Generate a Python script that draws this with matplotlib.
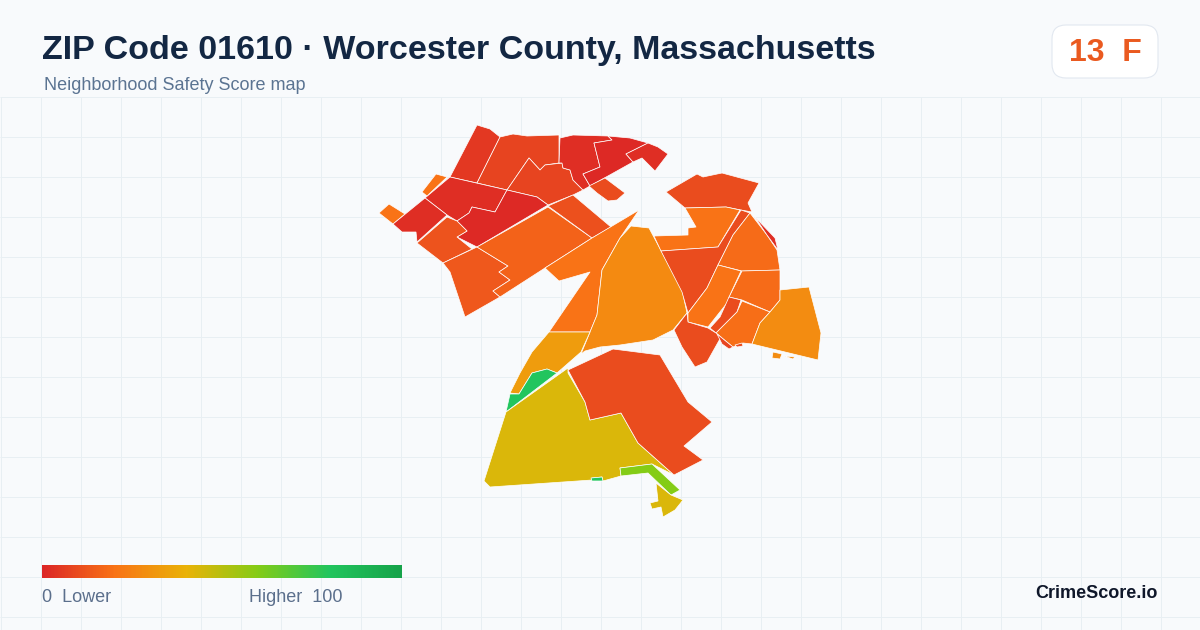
import numpy as np
import matplotlib
matplotlib.use('Agg')
import matplotlib.pyplot as plt
from matplotlib.colors import LinearSegmentedColormap
from matplotlib.patches import FancyBboxPatch, Polygon

plt.rcParams['font.family'] = ['Liberation Sans', 'DejaVu Sans']

# map outline in pixel units
nw_a = [(477,125),(490,129),(500,137),(477,183),(450,177)]
nw_b = [(500,137),(513,134),(527,136),(559,135),(559,163),(545,165),(540,170),(529,158),(507,190),(477,183)]
nw_c = [(529,158),(540,170),(545,165),(562,163),(563,168),(570,170),(573,180),(583,190),(573,195),(548,205),(537,197),(507,190)]
nw_d = [(560,138),(573,135),(608,136),(612,140),(594,143),(600,167),(583,174),(590,186),(583,190),(573,180),(570,170),(563,168),(562,163),(559,163)]
nw_e = [(612,140),(594,143),(600,167),(583,174),(590,186),(633,162),(626,154),(648,143),(630,138),(608,136)]
nw_f = [(648,143),(658,147),(668,154),(655,171),(642,158),(633,162),(626,154)]
nw_g = [(605,178),(625,193),(617,200),(608,201),(597,193),(589,186)]
nw_h = [(436,174),(447,177),(427,196),(422,192)]
nw_i = [(389,204),(405,214),(393,224),(379,213)]
nw_j = [(450,177),(507,190),(495,212),(472,207),(469,213),(457,221),(447,215),(425,198)]
nw_k = [(425,198),(447,215),(417,242),(416,232),(402,232),(393,224)]
nw_l = [(507,190),(537,197),(548,205),(477,247),(457,237),(467,231),(457,221),(469,213),(472,207),(495,212)]
nw_m = [(447,217),(457,221),(467,231),(457,237),(472,249),(443,263),(417,243)]
nw_n = [(443,263),(477,247),(508,266),(499,272),(510,280),(493,291),(500,297),(465,317),(450,272)]
nw_o = [(477,247),(548,207),(592,238),(545,268),(500,297),(493,291),(510,280),(499,272),(508,266)]
nw_p = [(548,206),(573,195),(611,227),(592,238)]
mid_q = [(639,210),(592,238),(545,268),(559,281),(590,272),(549,332),(590,332),(597,315),(602,270),(620,238)]
mid_r = [(631,226),(649,228),(682,290),(687,313),(673,330),(653,340),(620,345),(600,347),(585,351),(581,354),(590,332),(597,315),(602,270),(620,238)]
mid_s = [(549,332),(590,332),(581,352),(557,373),(547,369),(532,373),(519,394),(510,393),(520,373),(532,352)]
mid_t = [(510,394),(519,394),(532,373),(547,369),(557,373),(506,412)]
south_u = [(506,412),(568,368),(568,373),(585,402),(590,420),(621,413),(638,443),(674,475),(652,464),(620,468),(621,476),(603,481),(602,477),(592,478),(592,480),(490,487),(484,481)]
south_v = [(591,478),(602,477),(603,481),(592,481)]
south_w = [(620,468),(652,464),(680,490),(671,495),(648,473),(621,476)]
south_x = [(656,483),(671,495),(683,500),(675,510),(663,517),(661,507),(652,509),(650,503),(658,501)]
south_y = [(568,370),(613,349),(660,355),(688,402),(712,422),(684,446),(703,460),(674,475),(638,443),(621,413),(590,420),(585,402)]
east_z = [(666,192),(697,174),(703,177),(722,173),(759,183),(748,203),(752,212),(741,210),(726,207),(685,208)]
east_aa = [(685,208),(726,207),(740,210),(718,247),(661,251),(654,236),(688,235),(688,228),(696,227)]
east_ab = [(661,251),(718,247),(741,210),(750,213),(733,235),(718,265),(707,288),(688,313),(682,292)]
east_ac = [(750,213),(767,235),(777,250),(780,270),(742,271),(718,265),(733,235)]
east_ad = [(755,217),(775,238),(778,250),(767,235)]
east_ae = [(742,271),(780,270),(780,300),(770,312),(742,300),(729,297)]
east_af = [(718,265),(741,271),(729,297),(727,303),(708,327),(688,322),(688,313),(707,288)]
east_ag = [(729,297),(741,300),(737,312),(716,333),(710,328),(720,317)]
east_ah = [(742,301),(770,312),(760,323),(752,344),(743,343),(733,347),(716,333),(737,312)]
east_ai = [(735,345),(742,343),(743,346),(737,347)]
east_aj = [(687,313),(688,322),(708,328),(716,333),(721,337),(707,362),(695,367),(682,347),(674,330)]
east_ak = [(780,290),(809,287),(821,333),(818,360),(752,344),(760,323),(770,312),(780,300)]
east_al = [(773,352),(782,354),(780,359),(772,358)]
east_am = [(785,356),(795,357),(793,359),(787,357)]
east_an = [(717,334),(733,347),(729,349),(722,344)]

shapes = [nw_a, nw_b, nw_c, nw_d, nw_e, nw_f, nw_g, nw_h, nw_i, nw_j, nw_k, nw_l, nw_m, nw_n, nw_o, nw_p,
          mid_q, mid_r, mid_s, mid_t, south_u, south_v, south_w, south_x, south_y,
          east_z, east_aa, east_ab, east_ac, east_ad, east_ae, east_af, east_ag, east_ah, east_ai,
          east_aj, east_ak, east_al, east_am, east_an]
scores = [5, 8, 8, 2, 1, 2, 10, 20, 20, 2, 2, 1, 12, 13, 16, 11,
          20, 27, 33, 80, 43, 80, 60, 43, 10,
          10, 20, 10, 18, 2, 18, 20, 10, 19, 10,
          10, 28, 28, 28, 8]

stop_pos = [0, 0.2, 0.4, 0.6, 0.8, 1]
stop_colors = ['#dc2626', '#f97316', '#eab308', '#84cc16', '#22c55e', '#16a34a']
cmap = LinearSegmentedColormap.from_list('score', list(zip(stop_pos, stop_colors)))

grid_x = np.arange(0, 1201, 40)
grid_y = np.arange(96.5, 630, 40)

fig = plt.figure(figsize=(12, 6.3), dpi=100, facecolor='#f8fafc')
ax = fig.add_axes([0, 0, 1, 1])
ax.set_xlim(0, 1200)
ax.set_ylim(630, 0)
ax.axis('off')

ax.vlines(grid_x + 0.5, 97, 630, color='#e8eff3', linewidth=0.72, zorder=1)
ax.hlines(grid_y, 0, 1200, color='#e8eff3', linewidth=0.72, zorder=1)

for pts, score in zip(shapes, scores):
    ax.add_patch(Polygon(pts, closed=True, facecolor=cmap(score / 100), edgecolor='white',
                         linewidth=0.5, joinstyle='round', zorder=2))

# legend bar
gradient = np.linspace(0, 1, 360).reshape(1, -1)
ax.imshow(gradient, cmap=cmap, extent=(42, 402, 578, 565), aspect='auto', zorder=3)
ax.set_xlim(0, 1200)
ax.set_ylim(630, 0)
ax.text(42, 597.5, '0  Lower', fontsize=12.96, color='#5b6f8c', va='center', ha='left')
ax.text(249, 597.5, 'Higher  100', fontsize=12.96, color='#5b6f8c', va='center', ha='left')

# header
ax.text(42, 50, 'ZIP Code 01610 · Worcester County, Massachusetts', fontsize=24.48, fontweight='bold',
        color='#132743', va='center', ha='left')
ax.text(44, 85.5, 'Neighborhood Safety Score map', fontsize=12.96, color='#5b7492', va='center', ha='left')

ax.add_patch(FancyBboxPatch((1062, 35), 86, 33, boxstyle='round,pad=10,rounding_size=14',
                            facecolor='white', edgecolor='#e2e8f0', linewidth=0.8, zorder=3))
ax.text(1105, 53, '13  F', fontsize=23, fontweight='bold', color='#ea5a20', va='center', ha='center', zorder=4)

ax.text(1158, 594, 'CrimeScore.io', fontsize=13, fontweight='bold', color='#0f172a', va='center', ha='right')

fig.savefig('out.png', dpi=100, facecolor=fig.get_facecolor())
plt.close()
